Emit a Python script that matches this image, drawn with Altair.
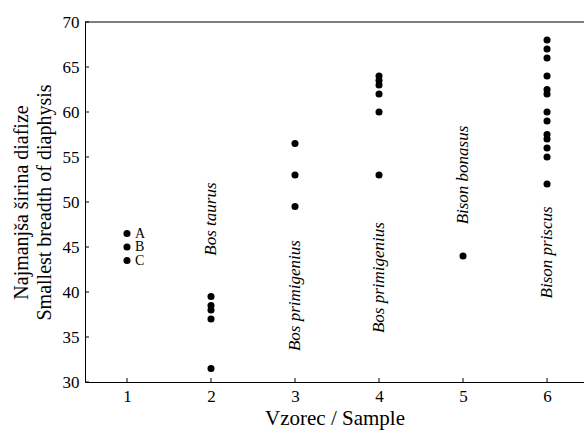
import altair as alt
import pandas as pd

# Measurements per sample (smallest breadth of diaphysis)
sample_ids = [1, 2, 3, 4, 5, 6]
s1 = [46.5, 45.0, 43.5]
s2 = [39.5, 38.5, 38.0, 37.0, 31.5]
s3 = [56.5, 53.0, 49.5]
s4 = [64.0, 63.5, 63.0, 62.0, 60.0, 53.0]
s5 = [44.0]
s6 = [68.0, 67.0, 66.0, 64.0, 62.5, 62.0, 60.0, 59.0, 57.5, 57.0, 56.0, 55.0, 52.0]
s1_letters = ["A", "B", "C"]

# Species annotation per sample (sample, centre value on the y scale)
species = ["Bos taurus", "Bos primigenius", "Bos primigenius", "Bison bonasus", "Bison priscus"]
species_x = [2, 3, 4, 5, 6]
species_y = [48.1, 39.6, 41.6, 53.0, 44.4]

y_ticks = [30, 35, 40, 45, 50, 55, 60, 65, 70]
x_ticks = [1, 2, 3, 4, 5, 6]

groups = [s1, s2, s3, s4, s5, s6]
points = pd.DataFrame(
    [{"sample": sid, "value": v} for sid, vals in zip(sample_ids, groups) for v in vals]
)
letters = pd.DataFrame({"sample": [1] * 3, "value": s1, "letter": s1_letters})
spec_df = pd.DataFrame({"sample": species_x, "value": species_y, "name": species})
yt = pd.DataFrame({"v": y_ticks})
xt = pd.DataFrame({"v": x_ticks})

FONT = "Liberation Serif"
xscale = alt.Scale(domain=[0.5, 6.44], nice=False, zero=False)
yscale = alt.Scale(domain=[30, 70], nice=False, zero=False)

x_axis = alt.Axis(
    values=x_ticks, format="d", title="Vzorec / Sample", tickSize=0, labelPadding=6,
    domainColor="black", labelColor="black", labelFontSize=17, labelFont=FONT,
    titleFont=FONT, titleFontSize=21, titleFontWeight="normal", titleColor="black",
    titlePadding=3, grid=False,
)
y_axis = alt.Axis(
    values=y_ticks, title=["Najmanjša širina diafize", "Smallest breadth of diaphysis"],
    tickSize=0, labelPadding=6, domainColor="black", labelColor="black",
    labelFontSize=17, labelFont=FONT, titleFont=FONT, titleFontSize=20,
    titleFontWeight="normal", titleColor="black", titlePadding=8, titleLineHeight=23,
    grid=False,
)

dots = alt.Chart(points).mark_circle(size=50, color="black", opacity=1).encode(
    x=alt.X("sample:Q", scale=xscale, axis=x_axis),
    y=alt.Y("value:Q", scale=yscale, axis=y_axis),
)

letter_text = alt.Chart(letters).mark_text(
    align="left", baseline="middle", dx=8, font=FONT, fontSize=14, color="black"
).encode(x="sample:Q", y="value:Q", text="letter:N")

species_text = alt.Chart(spec_df).mark_text(
    angle=270, align="center", baseline="middle", font=FONT, fontSize=17,
    fontStyle="italic", color="black"
).encode(x="sample:Q", y="value:Q", text="name:N")

# Inward tick marks on both axes
y_tick_marks = alt.Chart(yt).mark_rule(color="black", strokeWidth=1).encode(
    y="v:Q", x=alt.value(0), x2=alt.value(4)
)
x_tick_marks = alt.Chart(xt).mark_rule(color="black", strokeWidth=1).encode(
    x="v:Q", y=alt.value(360), y2=alt.value(356)
)
top_line = alt.Chart(pd.DataFrame({"v": [70]})).mark_rule(color="black", strokeWidth=1).encode(
    y="v:Q"
)

chart = (
    alt.layer(dots, letter_text, species_text, y_tick_marks, x_tick_marks, top_line)
    .properties(
        width=499, height=360,
        autosize=alt.AutoSizeParams(type="none"),
        padding={"left": 85, "top": 22, "right": 0, "bottom": 49},
        background="white",
    )
    .configure_view(stroke=None)
)

chart.save("out.html", embed_options={"renderer": "svg", "actions": False})
